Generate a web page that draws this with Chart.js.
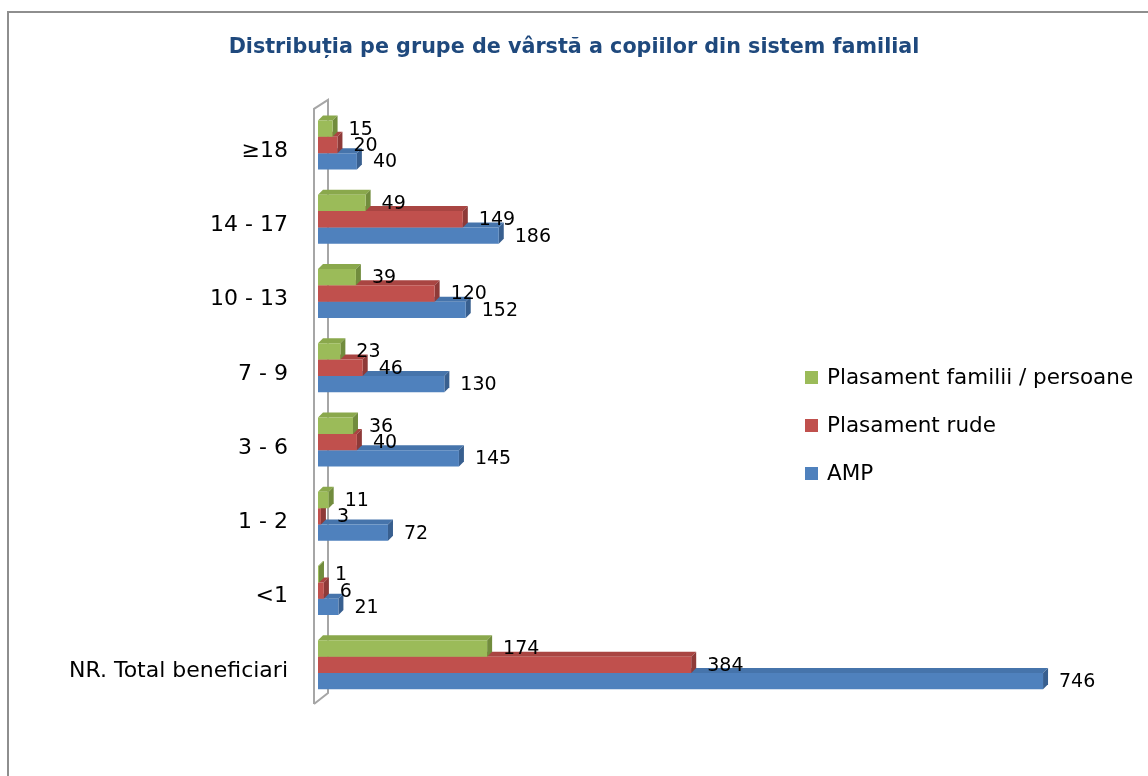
<!DOCTYPE html>
<html><head><meta charset="utf-8">
<script src="https://cdn.jsdelivr.net/npm/chart.js@4/dist/chart.umd.min.js"></script>
<style>html,body{margin:0;padding:0;background:#fff}#wrap{width:1148px;height:776px;position:relative}canvas{display:block}</style>
</head><body><div id="wrap"><canvas id="c" width="1148" height="776"></canvas></div>
<script>
const categories = ['≥18', '14 - 17', '10 - 13', '7 - 9', '3 - 6', '1 - 2', '<1', 'NR. Total beneficiari'];
const plasamentFamilii = [15, 49, 39, 23, 36, 11, 1, 174];
const plasamentRude = [20, 149, 120, 46, 40, 3, 6, 384];
const amp = [40, 186, 152, 130, 145, 72, 21, 746];
const seriesNames = ['Plasament familii / persoane', 'Plasament rude', 'AMP'];
const titleText = 'Distribuția pe grupe de vârstă a copiilor din sistem familial';
const xMax = 854;

const FONT = 'DejaVu Sans';
const frontColors = ['#9BBB59', '#C0504D', '#4F81BD'];
const topColors = ['#8AA84C', '#A94542', '#4674AB'];
const sideColors = ['#718C3D', '#8E3A38', '#385F8F'];
const DX = 5, DY = 5;

const bar3d = {
  id: 'bar3d',
  beforeDraw(chart) {
    const ctx = chart.ctx;
    ctx.save();
    ctx.strokeStyle = '#8E8E8E';
    ctx.lineWidth = 2;
    ctx.strokeRect(8, 12, 1170, 820);
    ctx.restore();
  },
  beforeDatasetsDraw(chart) {
    const ctx = chart.ctx, a = chart.chartArea;
    const fx = a.left - 4, bx = a.left + 10;
    ctx.save();
    ctx.strokeStyle = '#A6A6A6';
    ctx.lineWidth = 2;
    ctx.beginPath();
    ctx.moveTo(fx, a.bottom + 2);
    ctx.lineTo(fx, a.top + 1);
    ctx.lineTo(bx, a.top - 8);
    ctx.lineTo(bx, a.bottom - 9);
    ctx.lineTo(fx, a.bottom + 2);
    ctx.stroke();
    ctx.restore();
  },
  beforeDatasetDraw(chart, args) {
    const ctx = chart.ctx, i = args.index;
    ctx.save();
    args.meta.data.forEach(bar => {
      const p = bar.getProps(['x', 'y', 'base', 'height'], true);
      const t = p.y - p.height / 2, b = p.y + p.height / 2;
      ctx.fillStyle = topColors[i];
      ctx.beginPath();
      ctx.moveTo(p.base, t); ctx.lineTo(p.base + DX, t - DY);
      ctx.lineTo(p.x + DX, t - DY); ctx.lineTo(p.x, t); ctx.closePath(); ctx.fill();
      ctx.fillStyle = sideColors[i];
      ctx.beginPath();
      ctx.moveTo(p.x, t); ctx.lineTo(p.x + DX, t - DY);
      ctx.lineTo(p.x + DX, b - DY); ctx.lineTo(p.x, b); ctx.closePath(); ctx.fill();
    });
    ctx.restore();
  },
  afterDatasetsDraw(chart) {
    const ctx = chart.ctx;
    ctx.save();
    ctx.font = '19px "' + FONT + '"';
    ctx.fillStyle = '#000';
    ctx.textAlign = 'left';
    ctx.textBaseline = 'middle';
    for (let d = chart.data.datasets.length - 1; d >= 0; d--) {
      const meta = chart.getDatasetMeta(d);
      meta.data.forEach((bar, k) => {
        const p = bar.getProps(['x', 'y'], true);
        ctx.fillText(String(chart.data.datasets[d].data[k]), p.x + DX + 11, p.y + 1);
      });
    }
    // legend
    chart.data.datasets.forEach((ds, d) => {
      const yc = 378 + 48 * d;
      ctx.fillStyle = ds.backgroundColor;
      ctx.fillRect(805, yc - 7, 13, 13);
      ctx.fillStyle = '#000';
      ctx.font = '21.5px "' + FONT + '"';
      ctx.fillText(ds.label, 827, yc);
    });
    ctx.restore();
  }
};

new Chart(document.getElementById('c'), {
  type: 'bar',
  data: {
    labels: categories,
    datasets: [
      { label: seriesNames[0], data: plasamentFamilii, backgroundColor: frontColors[0] },
      { label: seriesNames[1], data: plasamentRude, backgroundColor: frontColors[1] },
      { label: seriesNames[2], data: amp, backgroundColor: frontColors[2] }
    ]
  },
  options: {
    responsive: false,
    animation: false,
    devicePixelRatio: 1,
    indexAxis: 'y',
    datasets: { bar: { categoryPercentage: 0.66, barPercentage: 1.0 } },
    layout: { padding: { left: 0, right: 0, top: 0, bottom: 74 } },
    plugins: {
      legend: { display: false },
      tooltip: { enabled: false },
      title: {
        display: true, text: titleText, color: '#1F497D',
        font: { family: FONT, size: 20.7, weight: 'bold', lineHeight: 1.2 },
        padding: { top: 35, bottom: 48 }
      }
    },
    scales: {
      x: { display: false, min: 0, max: xMax },
      y: {
        grid: { display: false, drawTicks: false },
        border: { display: false },
        ticks: { color: '#000', font: { family: FONT, size: 22 }, padding: 30, labelOffset: 6 },
        afterFit(s) { s.width = 318; }
      }
    }
  },
  plugins: [bar3d]
});
</script>
</body></html>
